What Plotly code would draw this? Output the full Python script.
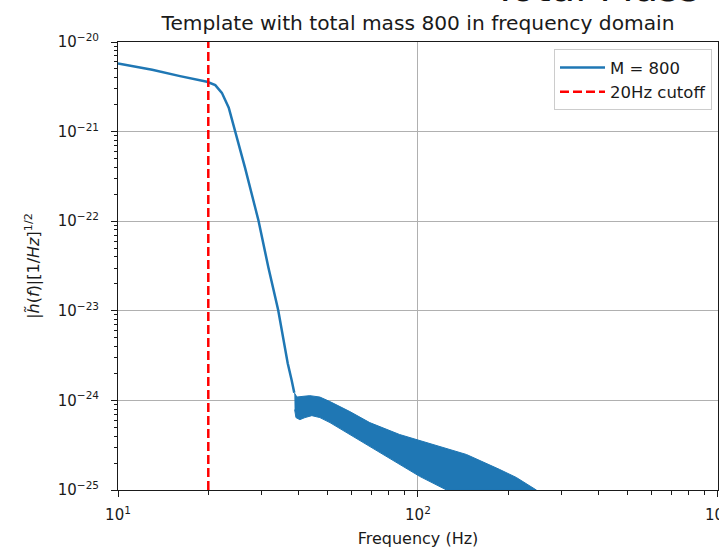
import plotly.graph_objects as go

# ---- data ----
# main (non-oscillating) part of the template amplitude
main_f = [10.0, 13.0, 16.1, 18.1, 19.8, 21.1, 22.2, 23.4, 24.6, 26.5, 29.4, 31.7, 34.2, 35.6, 36.8, 37.9, 38.7]
main_h = [5.75e-21, 4.9e-21, 4.16e-21, 3.82e-21, 3.6e-21, 3.3e-21, 2.71e-21, 1.85e-21, 1.02e-21, 3.98e-22,
          1.02e-22, 3.08e-23, 1.02e-23, 4.72e-24, 2.6e-24, 1.7e-24, 1.22e-24]

# oscillating band above ~38 Hz: upper and lower envelopes
upper_f = [38.7, 39.5, 41.4, 43.6, 47.1, 50.9, 59.3, 69.1, 86.9, 101.3, 111.9, 145.2, 186.9, 212.9, 248.2]
upper_h = [1.22e-24, 1.09e-24, 1.11e-24, 1.13e-24, 1.09e-24, 9.7e-25, 7.5e-25, 5.65e-25, 4.16e-25, 3.56e-25,
           3.22e-25, 2.49e-25, 1.7e-25, 1.38e-25, 1.0e-25]
lower_f = [38.8, 39.2, 40.4, 42.0, 44.3, 47.1, 50.9, 69.1, 86.9, 101.3, 124.6]
lower_h = [7.9e-25, 6.43e-25, 6.1e-25, 6.43e-25, 6.76e-25, 6.43e-25, 5.65e-25, 3.06e-25, 1.93e-25, 1.42e-25, 1.0e-25]

cutoff_f = 20
y_span = [1e-25, 1e-20]

x_range_log = [1, 3.0005]
y_range_log = [-25, -20]

x_tickvals = [10, 100, 1000]
x_ticktext = ["10<sup>1</sup>", "10<sup>2</sup>", "10<sup>3</sup>"]
y_tickvals = [1e-25, 1e-24, 1e-23, 1e-22, 1e-21, 1e-20]
y_ticktext = ["10<sup>\u221225</sup>", "10<sup>\u221224</sup>", "10<sup>\u221223</sup>",
              "10<sup>\u221222</sup>", "10<sup>\u221221</sup>", "10<sup>\u221220</sup>"]

x_minor = [m * 10 ** e for e in (1, 2) for m in range(2, 10)]
y_minor = [m * 10.0 ** e for e in (-25, -24, -23, -22, -21) for m in range(2, 10)]

BLUE = "#1f77b4"
FONT = "DejaVu Sans"
INK = "#1a1a1a"

fig = go.Figure()

fig.add_trace(go.Scatter(
    x=upper_f + lower_f[::-1], y=upper_h + lower_h[::-1],
    mode="lines", fill="toself", fillcolor=BLUE,
    line=dict(color=BLUE, width=1), showlegend=False, hoverinfo="skip"))

fig.add_trace(go.Scatter(
    x=main_f, y=main_h, mode="lines", name="M = 800",
    line=dict(color=BLUE, width=2.5)))

fig.add_trace(go.Scatter(
    x=[cutoff_f, cutoff_f], y=y_span, mode="lines", name="20Hz cutoff",
    line=dict(color="red", width=2.5, dash="9px,4px")))

axis_common = dict(
    showline=True, linecolor=INK, linewidth=1, mirror=True,
    ticks="outside", ticklen=6, tickwidth=1, tickcolor=INK,
    showgrid=True, gridcolor="#b0b0b0", gridwidth=0.8, ticklabeloverflow="allow",
    zeroline=False, tickfont=dict(family=FONT, size=15, color=INK),
)

minor_style = dict(tickmode="array", ticks="outside", ticklen=3.5, tickwidth=1,
                   tickcolor=INK, showgrid=False)

fig.update_layout(
    xaxis=dict(type="log", range=x_range_log, tickmode="array", tickvals=x_tickvals, ticktext=x_ticktext,
               ticklabelstandoff=5,
               minor=dict(tickvals=x_minor, **minor_style),
               title=dict(text="Frequency (Hz)", font=dict(family=FONT, size=16, color=INK), standoff=15),
               **axis_common),
    yaxis=dict(type="log", range=y_range_log, tickmode="array", tickvals=y_tickvals, ticktext=y_ticktext,
               ticklabelstandoff=9,
               minor=dict(tickvals=y_minor, **minor_style),
               title=dict(text="|<i>h\u0303</i>(<i>f</i>)|[1/<i>Hz</i>]<sup>1/2</sup>",
                          font=dict(family=FONT, size=16, color=INK), standoff=14),
               **axis_common),
)

fig.update_layout(
    width=719, height=548,
    margin=dict(l=118, r=1, t=42, b=58, autoexpand=False),
    paper_bgcolor="white", plot_bgcolor="white",
    font=dict(family=FONT, color=INK),
    title=dict(text="Template with total mass 800 in frequency domain",
               font=dict(family=FONT, size=20.2, color=INK),
               x=0.5, xref="paper", xanchor="center",
               y=1 - 23 / 548, yref="container", yanchor="middle"),
    legend=dict(x=0.99, y=0.984, xanchor="right", yanchor="top",
                bgcolor="rgba(255,255,255,0.8)", bordercolor="#cccccc", borderwidth=1,
                font=dict(family=FONT, size=16.5, color=INK),
                itemwidth=45, tracegroupgap=0),
    showlegend=True,
    annotations=[dict(text="Total Mass", xref="paper", yref="paper",
                      x=0.62, y=1.068, xanchor="left", yanchor="bottom",
                      showarrow=False, font=dict(family=FONT, size=40, color="#111111"))],
)

fig.write_html("out.html")
